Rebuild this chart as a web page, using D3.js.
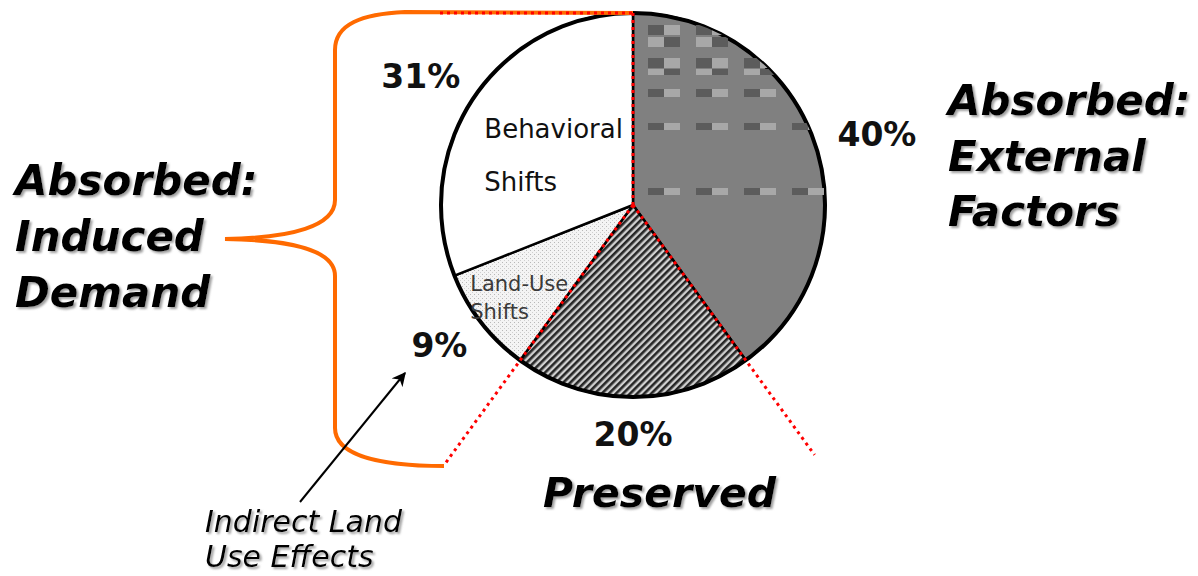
<!DOCTYPE html>
<html>
<head>
<meta charset="utf-8">
<script src="https://cdn.jsdelivr.net/npm/d3@7"></script>
<style>
  body { margin: 0; background: #fff; }
  svg text { font-family: "DejaVu Sans", Verdana, sans-serif; }
  .big { font-style: italic; }
  .pct { font-size: 33px; font-weight: bold; }
</style>
</head>
<body>
<div id="chart"></div>
<script>
var svgWidth = 1198;
var svgHeight = 576;

// slices, clockwise from 12 o'clock
var categories = ["External Factors", "Preserved", "Land-Use Shifts", "Behavioral Shifts"];
var shares = [40, 20, 9, 31];
var pctLabels = ["40%", "20%", "9%", "31%"];
var innerLabels = [[], [], ["Land-Use", "Shifts"], ["Behavioral", "Shifts"]];

// group headings
var leftHeading = ["Absorbed:", "Induced", "Demand"];
var rightHeading = ["Absorbed:", "External", "Factors"];
var bottomHeading = ["Preserved"];
var noteLines = ["Indirect Land", "Use Effects"];

var fills = ["#808080", "url(#hatch)", "url(#dots)", "#ffffff"];
var innerFrac = [0.5, 0.5, 0.75, 0.5];

var cx = 633, cy = 205, R = 192;

var svg = d3.select("#chart")
  .append("svg")
  .attr("width", svgWidth)
  .attr("height", svgHeight);

var defs = svg.append("defs");

// diagonal hatch for "Preserved"
var hatch = defs.append("pattern")
  .attr("id", "hatch")
  .attr("patternUnits", "userSpaceOnUse")
  .attr("width", 5).attr("height", 5)
  .attr("patternTransform", "rotate(45)");
hatch.append("rect").attr("width", 5).attr("height", 5).attr("fill", "#d0d0d0");
hatch.append("rect").attr("width", 2.6).attr("height", 5).attr("fill", "#262626");

// fine dots for "Land-Use Shifts"
var dots = defs.append("pattern")
  .attr("id", "dots")
  .attr("patternUnits", "userSpaceOnUse")
  .attr("width", 4).attr("height", 4);
dots.append("rect").attr("width", 4).attr("height", 4).attr("fill", "#f4f4f4");
dots.append("rect").attr("x", 1).attr("y", 1).attr("width", 1).attr("height", 1).attr("fill", "#b8b8b8");
dots.append("rect").attr("x", 3).attr("y", 3).attr("width", 1).attr("height", 1).attr("fill", "#cfcfcf");

var shadow = defs.append("filter").attr("id", "shadow")
  .attr("x", "-10%").attr("y", "-20%").attr("width", "130%").attr("height", "150%");
shadow.append("feDropShadow")
  .attr("dx", 2).attr("dy", 2).attr("stdDeviation", 1.2)
  .attr("flood-color", "#888").attr("flood-opacity", 0.8);

var arrowHead = defs.append("marker")
  .attr("id", "arrow")
  .attr("viewBox", "0 0 10 10")
  .attr("refX", 9).attr("refY", 5)
  .attr("markerWidth", 7).attr("markerHeight", 7)
  .attr("orient", "auto");
arrowHead.append("path").attr("d", "M0,0 L10,5 L0,10 L3,5 z").attr("fill", "#000");

var data = categories.map(function(c, i) {
  return { name: c, share: shares[i], pct: pctLabels[i], lines: innerLabels[i], i: i };
});

var pie = d3.pie().sort(null).value(d => d.share);
var arcs = pie(data);

var arc = d3.arc().innerRadius(0).outerRadius(R);

var pieGroup = svg.append("g")
  .attr("transform", `translate(${cx}, ${cy})`);

// orange brace around the induced-demand slices
var brace = d3.path();
brace.moveTo(cx, cy - R);
brace.lineTo(405, 12);
brace.bezierCurveTo(362, 14, 335, 24, 335, 50);
brace.lineTo(335, 200);
brace.bezierCurveTo(335, 226, 292, 238, 225, 239);
brace.bezierCurveTo(292, 240, 335, 250, 335, 276);
brace.lineTo(335, 428);
brace.bezierCurveTo(335, 455, 378, 466, 444, 466);
svg.append("path")
  .attr("d", brace.toString())
  .attr("fill", "none")
  .attr("stroke", "#ff6a00")
  .attr("stroke-width", 4);

// slices
pieGroup.selectAll("path.slice")
  .data(arcs)
  .enter()
  .append("path")
  .attr("class", "slice")
  .attr("d", arc)
  .attr("fill", d => fills[d.index])
  .attr("stroke", "#000")
  .attr("stroke-width", 2.5)
  .attr("stroke-linejoin", "round");

// checker texture on the external factors slice
var clip = defs.append("clipPath").attr("id", "extClip");
clip.append("path").attr("d", arc(arcs[0])).attr("transform", `translate(${cx}, ${cy})`);
var checkerRows = [
  { y: 25, h: 10, swap: false }, { y: 37, h: 10, swap: true },
  { y: 58, h: 10, swap: false }, { y: 69, h: 6, swap: true },
  { y: 89, h: 8, swap: false }, { y: 123, h: 7, swap: false },
  { y: 188, h: 7, swap: false }
];
var checker = svg.append("g").attr("clip-path", "url(#extClip)");
checkerRows.forEach(function(row) {
  d3.range(4).forEach(function(k) {
    var x0 = 648 + k * 48;
    checker.append("rect").attr("x", x0).attr("y", row.y).attr("width", 16).attr("height", row.h)
      .attr("fill", row.swap ? "#a8a8a8" : "#5c5c5c");
    checker.append("rect").attr("x", x0 + 16).attr("y", row.y).attr("width", 16).attr("height", row.h)
      .attr("fill", row.swap ? "#5c5c5c" : "#a8a8a8");
  });
});

// outer rim
pieGroup.append("circle")
  .attr("r", R)
  .attr("fill", "none")
  .attr("stroke", "#000")
  .attr("stroke-width", 4);

// red dotted radii: top edge and both edges of the preserved slice
function pt(angle, r) {
  return [cx + r * Math.sin(angle), cy - r * Math.cos(angle)];
}
var redLines = [
  [pt(0, 0), pt(0, R)],
  [pt(arcs[1].startAngle, 0), pt(arcs[1].startAngle, 309)],
  [pt(arcs[1].endAngle, 0), pt(arcs[1].endAngle, 320)],
  [[440, cy - R], [cx, cy - R]]
];
svg.selectAll("line.red")
  .data(redLines)
  .enter()
  .append("line")
  .attr("class", "red")
  .attr("x1", d => d[0][0]).attr("y1", d => d[0][1])
  .attr("x2", d => d[1][0]).attr("y2", d => d[1][1])
  .attr("stroke", "#ff0000")
  .attr("stroke-width", 3)
  .attr("stroke-dasharray", "3,4");

// percentage labels outside the rim
var pctText = svg.selectAll("text.pct")
  .data(arcs)
  .enter()
  .append("text")
  .attr("class", "pct")
  .attr("text-anchor", "middle")
  .attr("dominant-baseline", "central")
  .attr("fill", "#111")
  .text(d => d.data.pct);
pctText.each(function(d) {
  var bb = this.getBBox();
  var a = (d.startAngle + d.endAngle) / 2;
  var gap = 25;
  d3.select(this)
    .attr("x", cx + Math.sin(a) * (R + gap + bb.width / 2))
    .attr("y", cy - Math.cos(a) * (R + gap + 12));
});

// inner labels
arcs.forEach(function(d) {
  if (!d.data.lines.length) return;
  var f = innerFrac[d.index];
  var c = d3.arc().innerRadius(0).outerRadius(2 * R * f).centroid(d);
  var isSmall = d.index === 2;
  var size = isSmall ? 21 : 26;
  var lh = isSmall ? 28 : 53;
  var t = pieGroup.append("text")
    .attr("font-size", size)
    .attr("fill", isSmall ? "#3a3a3a" : "#111");
  d.data.lines.forEach(function(line, j) {
    t.append("tspan").attr("y", c[1] + 4 + (j - (d.data.lines.length - 1) / 2) * lh).attr("dy", "0.35em").text(line);
  });
  var w = t.select("tspan").node().getComputedTextLength();
  t.selectAll("tspan").attr("x", c[0] - w / 2);
});

// headings
function heading(lines, x, y0, step, size, weight) {
  var t = svg.append("text")
    .attr("class", "big")
    .attr("filter", "url(#shadow)")
    .style("font-size", size + "px")
    .style("font-weight", weight)
    .attr("fill", "#000");
  lines.forEach(function(line, j) {
    t.append("tspan").attr("x", x).attr("y", y0 + j * step).text(line);
  });
  return t;
}
heading(leftHeading, 15, 195, 56, 42, "bold");
heading(rightHeading, 948, 115, 55.5, 42, "bold");
heading(bottomHeading, 543, 507, 0, 41, "bold");
heading(noteLines, 205, 532, 35, 30, "normal");

// arrow to the 9% label
svg.append("line")
  .attr("x1", 300).attr("y1", 502)
  .attr("x2", 405).attr("y2", 373)
  .attr("stroke", "#000")
  .attr("stroke-width", 2)
  .attr("marker-end", "url(#arrow)");
</script>
</body>
</html>
